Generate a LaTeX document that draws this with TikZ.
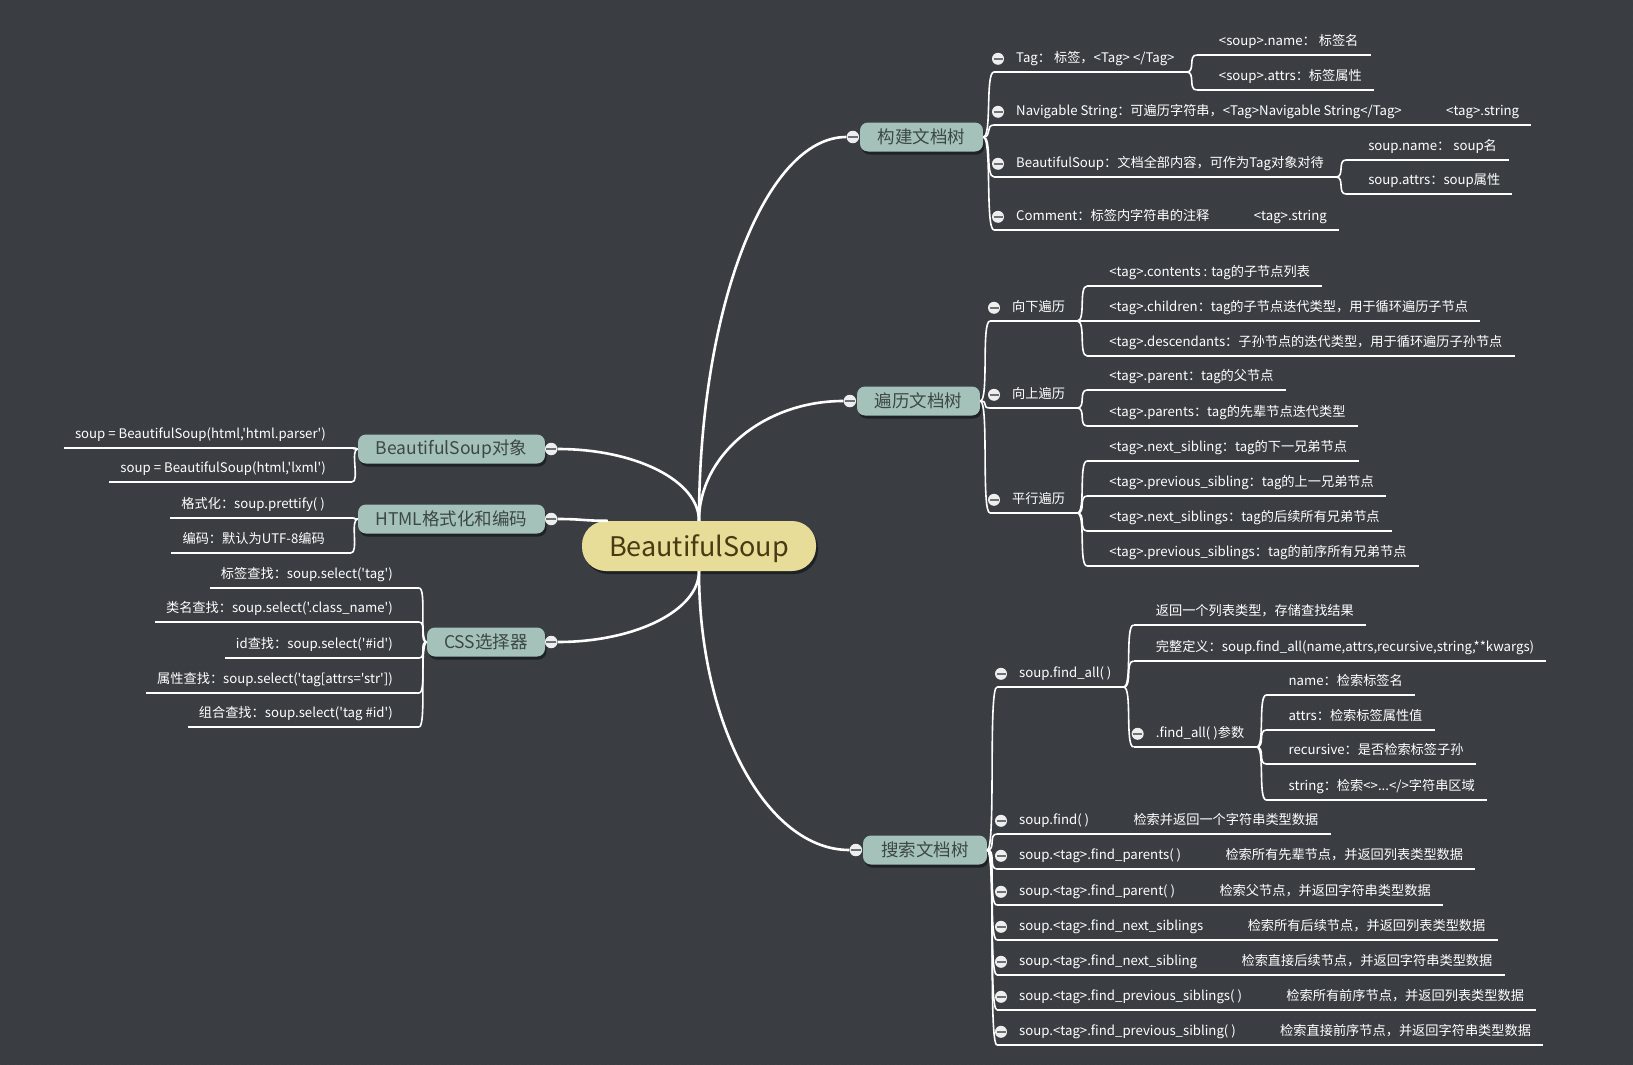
\documentclass[tikz,border=0pt]{standalone}
\usepackage{fontspec}
\setmainfont{Noto Sans CJK SC}[Ligatures=TeXOff]
\usetikzlibrary{positioning,shadows,patterns.meta}
\definecolor{bgc}{HTML}{3A3E43}
\definecolor{dotc}{HTML}{464A4F}
\definecolor{topicc}{HTML}{A4C2BA}
\definecolor{topictxt}{HTML}{3D4744}
\definecolor{rootc}{HTML}{E7DC98}
\definecolor{roottxt}{HTML}{4A3A12}
\definecolor{foldc}{HTML}{EEEEEE}
\definecolor{foldbar}{HTML}{6C7176}

\begin{document}
\begin{tikzpicture}[x=1pt, y=-1pt,
    wire/.style={white, line width=1.6pt},
    trunk/.style={white, line width=2.6pt},
    root/.style={rounded corners=24pt, fill=rootc, text=roottxt, font=\fontsize{27}{30}\selectfont,
      minimum width=234pt, minimum height=50pt, inner sep=0pt, text height=26pt, text depth=6pt,
      drop shadow={shadow xshift=2pt, shadow yshift=-3pt, opacity=.45, fill=black}},
    topic/.style={rounded corners=8pt, fill=topicc, text=topictxt, font=\fontsize{17.5}{20}\selectfont,
      minimum height=29pt, inner sep=0pt,
      drop shadow={shadow xshift=1.5pt, shadow yshift=-3pt, opacity=.45, fill=black}},
    leaf/.style={anchor=south west, text=white, font=\fontsize{13.2}{15}\selectfont,
      inner xsep=0pt, inner ysep=6.5pt, text height=10pt, text depth=3pt},
    lleaf/.style={leaf, anchor=south east},
    fold/.style={circle, fill=foldc, minimum size=12.5pt, inner sep=0pt,
      path picture={\draw[foldbar, line width=2.2pt] ([xshift=1.5pt]path picture bounding box.west) -- ([xshift=-1.5pt]path picture bounding box.east);}}]

  % 背景
  \useasboundingbox (0,0) rectangle (1633,1065);
  \fill[bgc] (0,0) rectangle (1633,1065);
  \fill[pattern={Dots[distance=8pt, radius=.6pt]}, pattern color=dotc] (0,0) rectangle (1633,1065);

  % 中心主题和分支主题
  \node[root] (root) at (699,546) {BeautifulSoup};
  \node[topic, minimum width=123pt] (t1) at (921.5,137) {构建文档树};
  \node[topic, minimum width=123pt] (t2) at (918.5,401) {遍历文档树};
  \node[topic, minimum width=124pt] (t3) at (925,850) {搜索文档树};
  \node[topic, minimum width=187pt] (l1) at (451.5,449) {BeautifulSoup对象};
  \node[topic, minimum width=187pt] (l2) at (451.5,519) {HTML格式化和编码};
  \node[topic, minimum width=118pt] (l3) at (486,642) {CSS选择器};

  % 构建文档树
  \node[leaf] (tag) at (1016,72) {Tag： 标签，<Tag> </Tag>};
  \node[leaf] (navstr) at (1016,125) {Navigable String：可遍历字符串，<Tag>Navigable String</Tag>};
  \node[leaf] (bsoup) at (1016,177) {BeautifulSoup：文档全部内容，可作为Tag对象对待};
  \node[leaf] (comment) at (1016,230) {Comment：标签内字符串的注释};
  \node[leaf, xshift=44pt] (tagname) at (tag.south east |- 0,55) {<soup>.name： 标签名};
  \node[leaf, xshift=44pt] (tagattrs) at (tag.south east |- 0,90) {<soup>.attrs：标签属性};
  \node[leaf, right=44pt of navstr] (navstr1) {<tag>.string};
  \node[leaf, xshift=44pt] (soupname) at (bsoup.south east |- 0,160) {soup.name： soup名};
  \node[leaf, xshift=44pt] (soupattrs) at (bsoup.south east |- 0,194) {soup.attrs：soup属性};
  \node[leaf, right=44pt of comment] (comment1) {<tag>.string};

  % 遍历文档树
  \node[leaf] (down) at (1012,321) {向下遍历};
  \node[leaf] (up) at (1012,408) {向上遍历};
  \node[leaf] (par) at (1012,513) {平行遍历};
  \node[leaf, xshift=44pt] (contents) at (down.south east |- 0,286) {<tag>.contents : tag的子节点列表};
  \node[leaf, xshift=44pt] (children) at (down.south east |- 0,321) {<tag>.children：tag的子节点迭代类型，用于循环遍历子节点};
  \node[leaf, xshift=44pt] (descendants) at (down.south east |- 0,356) {<tag>.descendants：子孙节点的迭代类型，用于循环遍历子孙节点};
  \node[leaf, xshift=44pt] (parent) at (up.south east |- 0,390) {<tag>.parent：tag的父节点};
  \node[leaf, xshift=44pt] (parents) at (up.south east |- 0,426) {<tag>.parents：tag的先辈节点迭代类型};
  \node[leaf, xshift=44pt] (nsib) at (par.south east |- 0,461) {<tag>.next\_sibling：tag的下一兄弟节点};
  \node[leaf, xshift=44pt] (psib) at (par.south east |- 0,496) {<tag>.previous\_sibling：tag的上一兄弟节点};
  \node[leaf, xshift=44pt] (nsibs) at (par.south east |- 0,531) {<tag>.next\_siblings：tag的后续所有兄弟节点};
  \node[leaf, xshift=44pt] (psibs) at (par.south east |- 0,566) {<tag>.previous\_siblings：tag的前序所有兄弟节点};

  % 搜索文档树
  \node[leaf] (findall) at (1019,687) {soup.find\_all( )};
  \node[leaf, xshift=44pt] (ret) at (findall.south east |- 0,625) {返回一个列表类型，存储查找结果};
  \node[leaf, xshift=44pt] (fulldef) at (findall.south east |- 0,661) {完整定义：soup.find\_all(name,attrs,recursive,string,**kwargs)};
  \node[leaf, xshift=44pt] (params) at (findall.south east |- 0,747) {.find\_all( )参数};
  \node[leaf, xshift=44pt] (pname) at (params.south east |- 0,695) {name：检索标签名};
  \node[leaf, xshift=44pt] (pattrs) at (params.south east |- 0,730) {attrs：检索标签属性值};
  \node[leaf, xshift=44pt] (precur) at (params.south east |- 0,764) {recursive：是否检索标签子孙};
  \node[leaf, xshift=44pt] (pstr) at (params.south east |- 0,800) {string：检索<>...</>字符串区域};
  \node[leaf] (find) at (1019,834) {soup.find( )};
  \node[leaf] (fparents) at (1019,869) {soup.<tag>.find\_parents( )};
  \node[leaf] (fparent) at (1019,905) {soup.<tag>.find\_parent( )};
  \node[leaf] (fnexts) at (1019,940) {soup.<tag>.find\_next\_siblings};
  \node[leaf] (fnext) at (1019,975) {soup.<tag>.find\_next\_sibling};
  \node[leaf] (fprevs) at (1019,1010) {soup.<tag>.find\_previous\_siblings( )};
  \node[leaf] (fprev) at (1019,1045) {soup.<tag>.find\_previous\_sibling( )};
  \node[leaf, right=44pt of find] (find1) {检索并返回一个字符串类型数据};
  \node[leaf, right=44pt of fparents] (fparents1) {检索所有先辈节点，并返回列表类型数据};
  \node[leaf, right=44pt of fparent] (fparent1) {检索父节点，并返回字符串类型数据};
  \node[leaf, right=44pt of fnexts] (fnexts1) {检索所有后续节点，并返回列表类型数据};
  \node[leaf, right=44pt of fnext] (fnext1) {检索直接后续节点，并返回字符串类型数据};
  \node[leaf, right=44pt of fprevs] (fprevs1) {检索所有前序节点，并返回列表类型数据};
  \node[leaf, right=44pt of fprev] (fprev1) {检索直接前序节点，并返回字符串类型数据};

  % 左侧三个分支
  \node[lleaf] (bs1) at (326,448) {soup = BeautifulSoup(html,'html.parser')};
  \node[lleaf] (bs2) at (326,482) {soup = BeautifulSoup(html,'lxml')};
  \node[lleaf] (fmt1) at (325,518) {格式化：soup.prettify( )};
  \node[lleaf] (fmt2) at (325,553) {编码：默认为UTF-8编码};
  \node[lleaf] (css1) at (393,588) {标签查找：soup.select('tag')};
  \node[lleaf] (css2) at (393,622) {类名查找：soup.select('.class\_name')};
  \node[lleaf] (css3) at (393,658) {id查找：soup.select('\#id')};
  \node[lleaf] (css4) at (393,693) {属性查找：soup.select('tag[attrs='str'])};
  \node[lleaf] (css5) at (393,727) {组合查找：soup.select('tag \#id')};

  % 下划线
  \foreach \n in {tag,tagname,tagattrs,navstr,navstr1,bsoup,soupname,soupattrs,comment,comment1,
      down,contents,children,descendants,up,parent,parents,par,nsib,psib,nsibs,psibs,
      findall,ret,fulldef,params,pname,pattrs,precur,pstr,find,find1,fparents,fparents1,
      fparent,fparent1,fnexts,fnexts1,fnext,fnext1,fprevs,fprevs1,fprev,fprev1}
    \draw[wire] ([xshift=-22pt]\n.south west) -- ([xshift=12pt]\n.south east);
  \foreach \n in {bs1,bs2,fmt1,fmt2,css1,css2,css3,css4,css5}
    \draw[wire] ([xshift=-11pt]\n.south west) -- ([xshift=26pt]\n.south east);

  % 连线
  \foreach \c in {tag,navstr,bsoup,comment}
    \draw[wire] (t1.east) .. controls +(9,0) and +(-9,0) .. ([xshift=-22pt]\c.south west);
  \foreach \c in {down,up,par}
    \draw[wire] (t2.east) .. controls +(9,0) and +(-9,0) .. ([xshift=-22pt]\c.south west);
  \foreach \c in {findall,find,fparents,fparent,fnexts,fnext,fprevs,fprev}
    \draw[wire] (t3.east) .. controls +(9,0) and +(-9,0) .. ([xshift=-22pt]\c.south west);
  \foreach \p/\c in {tag/tagname,tag/tagattrs,bsoup/soupname,bsoup/soupattrs,
      down/contents,down/children,down/descendants,up/parent,up/parents,
      par/nsib,par/psib,par/nsibs,par/psibs,findall/ret,findall/fulldef,findall/params,
      params/pname,params/pattrs,params/precur,params/pstr}
    \draw[wire] ([xshift=12pt]\p.south east) .. controls +(9,0) and +(-9,0) .. ([xshift=-22pt]\c.south west);
  \foreach \p/\c in {navstr/navstr1,comment/comment1,find/find1,fparents/fparents1,fparent/fparent1,
      fnexts/fnexts1,fnext/fnext1,fprevs/fprevs1,fprev/fprev1}
    \draw[wire] ([xshift=12pt]\p.south east) -- ([xshift=-22pt]\c.south west);
  \foreach \p/\c in {l1/bs1,l1/bs2,l2/fmt1,l2/fmt2,l3/css1,l3/css2,l3/css3,l3/css4,l3/css5}
    \draw[wire] (\p.west) .. controls +(-8,0) and +(8,0) .. ([xshift=26pt]\c.south east);

  % 折叠按钮
  \node[fold] (ft1) at ([xshift=-7pt]t1.west) {};
  \node[fold] (ft2) at ([xshift=-7pt]t2.west) {};
  \node[fold] (ft3) at ([xshift=-7pt]t3.west) {};
  \node[fold] (fl1) at ([xshift=6pt]l1.east) {};
  \node[fold] (fl2) at ([xshift=6pt]l2.east) {};
  \node[fold] (fl3) at ([xshift=6pt]l3.east) {};
  \foreach \n in {tag,navstr,bsoup,comment,down,up,par,findall,params,
      find,fparents,fparent,fnexts,fnext,fprevs,fprev}
    \node[fold, minimum size=12pt] (f-\n) at ([xshift=-18pt]\n.west) {};

  % 主干曲线
  \draw[trunk] (root.north) .. controls +(0,-212) and +(-81,0) .. (ft1.west);
  \draw[trunk] (root.north) .. controls +(0,-65) and +(-80,0) .. (ft2.west);
  \draw[trunk] (root.south) .. controls +(0,153) and +(-83,0) .. (ft3.west);
  \draw[trunk] (root.north) .. controls +(0,-40) and +(78,0) .. (fl1.east);
  \draw[trunk] ([xshift=26pt]root.north west) .. controls +(-24,0) and +(24,0) .. (fl2.east);
  \draw[trunk] (root.south) .. controls +(0,39) and +(78,0) .. (fl3.east);
\end{tikzpicture}
\end{document}
